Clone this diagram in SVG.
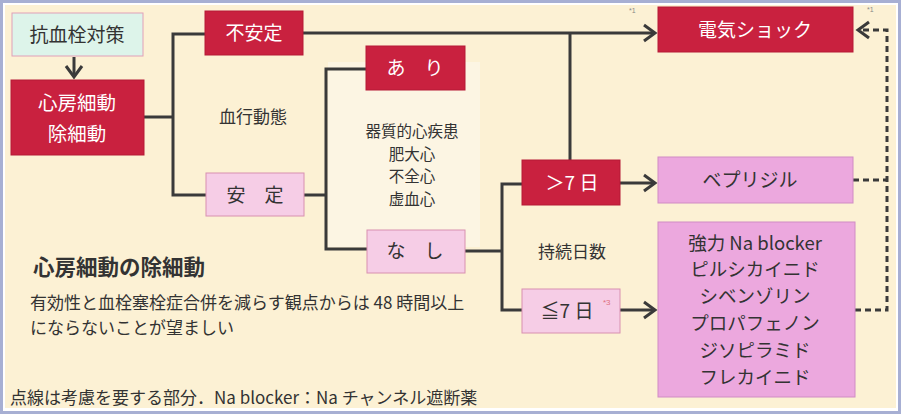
<svg xmlns="http://www.w3.org/2000/svg" width="901" height="414" viewBox="0 0 901 414">
<defs>
<style>
.red{fill:#C9213F;stroke:#B51A36;stroke-width:1}
.pink{fill:#F6CDE6;stroke:#D890B0;stroke-width:1}
.mag{fill:#ECA8DE;stroke:#D08CC4;stroke-width:1}
.cyan{fill:#DDF4EA;stroke:#E0A0B8;stroke-width:1}
.wt{font-family:"Noto Sans CJK JP","Noto Sans",sans-serif;fill:#FFFFFF;text-anchor:middle}
.dt{font-family:"Noto Sans CJK JP","Noto Sans",sans-serif;fill:#333333;text-anchor:middle}
.ln{fill:none;stroke:#3A3A3A;stroke-width:3}
.dash{fill:none;stroke:#3A3A3A;stroke-width:3;stroke-dasharray:6,4}
.sup{font-family:"Liberation Sans",sans-serif;fill:#888888}
</style>
<marker id="ah" markerUnits="userSpaceOnUse" markerWidth="16" markerHeight="20" refX="13" refY="10" orient="auto">
<path d="M2,2 L13,10 L2,18" fill="none" stroke="#3A3A3A" stroke-width="3"/>
</marker>
</defs>
<rect x="0" y="0" width="901" height="414" fill="#A7AFD3"/>
<rect x="3" y="3" width="895" height="408" fill="#FFFFFF"/>
<rect x="5" y="5" width="891" height="403" fill="#FCF1D4"/>
<rect x="328" y="62" width="152" height="185" fill="#FCF5E3"/>

<g id="connectors">
<path class="ln" d="M74,57 L74,77" marker-end="url(#ah)"/>
<path class="ln" d="M144,117 L173,117 M205,34 L173,34 L173,195 L206,195"/>
<path class="ln" d="M303,33 L655,33" marker-end="url(#ah)"/>
<path class="ln" d="M570,33 L570,160"/>
<path class="ln" d="M304,195 L326,195 M367,69 L326,69 L326,249 L367,249"/>
<path class="ln" d="M465,251 L502,251 M523,184 L502,184 L502,310 L523,310"/>
<path class="ln" d="M620,183 L655,183" marker-end="url(#ah)"/>
<path class="ln" d="M620,310 L655,310" marker-end="url(#ah)"/>
<path class="dash" d="M853,180 L887,180 M855,310 L887,310 L887,30 L858,30" marker-end="url(#ah)"/>
</g>

<g id="n_antithrombo">
<rect class="cyan" x="12" y="13" width="131" height="43"/>
<text class="dt" x="77" y="42" font-size="19">抗血栓対策</text>
</g>
<g id="n_af">
<rect class="red" x="11" y="80" width="133" height="75"/>
<text class="wt" x="77" y="110" font-size="19.5">心房細動</text>
<text class="wt" x="77" y="141" font-size="19.5">除細動</text>
</g>
<g id="n_unstable">
<rect class="red" x="205" y="11" width="98" height="44"/>
<text class="wt" x="254" y="40" font-size="19">不安定</text>
</g>
<g id="n_stable">
<rect class="pink" x="206" y="173" width="98" height="43"/>
<text class="dt" x="255" y="202" font-size="19">安　定</text>
</g>
<text class="dt" x="253" y="123" font-size="17">血行動態</text>
<g id="n_ari">
<rect class="red" x="366" y="46" width="99" height="44"/>
<text class="wt" x="415" y="75" font-size="19">あ　り</text>
</g>
<text class="dt" x="412" y="137" font-size="15.5">器質的心疾患</text>
<text class="dt" x="412" y="159.5" font-size="15.5">肥大心</text>
<text class="dt" x="412" y="182" font-size="15.5">不全心</text>
<text class="dt" x="412" y="204.5" font-size="15.5">虚血心</text>
<g id="n_nashi">
<rect class="pink" x="367" y="230" width="98" height="43"/>
<text class="dt" x="415" y="258" font-size="19">な　し</text>
</g>
<g id="n_gt7">
<rect class="red" x="522" y="160" width="98" height="45"/>
<text class="wt" x="572" y="190" font-size="19">＞7 日</text>
</g>
<text class="dt" x="572" y="258" font-size="17">持続日数</text>
<g id="n_le7">
<rect class="pink" x="522" y="289" width="98" height="44"/>
<text class="dt" x="567" y="318" font-size="19">≦7 日</text>
<text x="603" y="305" font-family="Liberation Sans,sans-serif" font-size="8" fill="#E07080">*3</text>
</g>
<g id="n_shock">
<rect class="red" x="658" y="7" width="195" height="45"/>
<text class="wt" x="755" y="37" font-size="19">電気ショック</text>
<text class="sup" x="629" y="13" font-size="7">*1</text>
<text class="sup" x="867" y="12" font-size="7">*1</text>
</g>
<g id="n_bepridil">
<rect class="mag" x="658" y="157" width="195" height="46"/>
<text class="dt" x="750" y="187" font-size="19">ベプリジル</text>
</g>
<g id="n_nablocker">
<rect class="mag" x="658" y="222" width="197" height="175"/>
<text class="dt" x="755" y="249.5" font-size="18.5" fill="#222">強力 Na blocker</text>
<text class="dt" x="755" y="276.3" font-size="18.5">ピルシカイニド</text>
<text class="dt" x="755" y="303.1" font-size="18.5">シベンゾリン</text>
<text class="dt" x="755" y="329.9" font-size="18.5">プロパフェノン</text>
<text class="dt" x="755" y="356.7" font-size="18.5">ジソピラミド</text>
<text class="dt" x="755" y="383.5" font-size="18.5">フレカイニド</text>
</g>
<g id="notes" font-family="Noto Sans CJK JP,Noto Sans,sans-serif" fill="#333333">
<text x="33" y="275" font-size="21.5" font-weight="bold">心房細動の除細動</text>
<text x="30" y="309" font-size="17">有効性と血栓塞栓症合併を減らす観点からは 48 時間以上</text>
<text x="30" y="334" font-size="17">にならないことが望ましい</text>
<text x="10" y="404" font-size="17">点線は考慮を要する部分．Na blocker：Na チャンネル遮断薬</text>
</g>
</svg>
